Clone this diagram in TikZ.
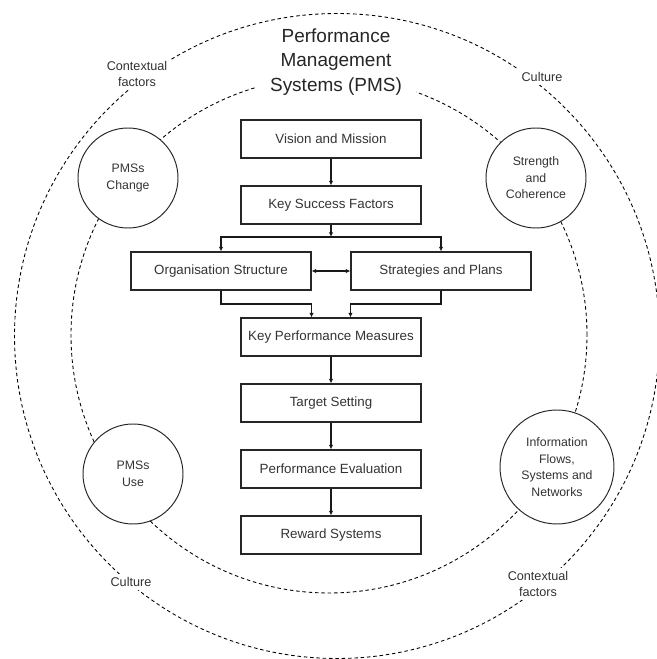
\documentclass[tikz,border=0pt]{standalone}
\usepackage{fontspec}
\setmainfont{Liberation Sans}
\usetikzlibrary{arrows.meta}

\tikzset{
  >={Latex[length=2.6pt,width=2.5pt]},
  block/.style={draw=black!85, line width=0.6pt, minimum width=3.6cm, minimum height=0.76cm,
    inner sep=0pt, text=black!80, font=\fontsize{7.6}{9}\selectfont},
  ring/.style={circle, draw=black!85, line width=0.55pt, fill=white, minimum size=2cm,
    inner sep=0pt, align=center, text=black!80, font=\fontsize{7}{9.4}\selectfont},
  factor/.style={fill=white, inner sep=2pt, align=center, text=black!80,
    font=\fontsize{7.2}{9.3}\selectfont},
  flow/.style={line width=0.65pt, black!90},
  zone/.style={dash pattern=on 2pt off 1.6pt, line width=0.5pt},
}

\begin{document}
\begin{tikzpicture}
  \useasboundingbox (0,0) rectangle (13.14,13.18);
  %%%%%%%%%%%%%%%%%%%%%%%%%%%%%%%%
  \draw[zone] (6.74,6.46) circle (6.45);
  \draw[zone] (6.58,6.48) circle (5.16);
  \node[fill=white, inner xsep=8pt, inner ysep=2pt, align=center, text=black!85,
    font=\fontsize{10.8}{14}\selectfont] (pms) at (6.72,11.94) {Performance\\Management\\Systems (PMS)};
  %%%%%%%%%%%%%%%%%%%%%%%%%%%%%%%%
  \node[block] (vision) at (6.62,10.40) {Vision and Mission};
  \node[block] (ksf) at (6.62,9.08) {Key Success Factors};
  \node[block] (org) at (4.42,7.76) {Organisation Structure};
  \node[block] (plans) at (8.82,7.76) {Strategies and Plans};
  \node[block] (kpm) at (6.62,6.44) {Key Performance Measures};
  \node[block] (target) at (6.62,5.12) {Target Setting};
  \node[block] (eval) at (6.62,3.80) {Performance Evaluation};
  \node[block] (reward) at (6.62,2.48) {Reward Systems};
  %%%%%%%%%%%%%%%%%%%%%%%%%%%%%%%%
  \coordinate (split) at (6.62,8.44);
  \coordinate (merge) at (6.62,7.10);
  \draw[flow, ->] (vision) -- (ksf);
  \draw[flow, ->] (ksf) -- (split);
  \draw[flow, ->] (split) -| (org);
  \draw[flow, ->] (split) -| (plans);
  \draw[flow, <->] (org) -- (plans);
  \draw[flow, ->] (org.south) |- (org.east |- merge) -- (org.east |- kpm.north);
  \draw[flow, ->] (plans.south) |- (plans.west |- merge) -- (plans.west |- kpm.north);
  \draw[flow, ->] (kpm) -- (target);
  \draw[flow, ->] (target) -- (eval);
  \draw[flow, ->] (eval) -- (reward);
  %%%%%%%%%%%%%%%%%%%%%%%%%%%%%%%%
  \node[ring] (change) at (2.56,9.62) {PMSs\\Change};
  \node[ring] (coherence) at (10.72,9.62) {Strength\\and\\Coherence};
  \node[ring] (use) at (2.66,3.70) {PMSs\\Use};
  \node[ring, minimum size=2.28cm] (info) at (11.14,3.84) {Information\\Flows,\\Systems and\\Networks};
  %%%%%%%%%%%%%%%%%%%%%%%%%%%%%%%%
  \node[factor] (ctxtop) at (2.74,11.70) {Contextual\\factors};
  \node[factor] (cultop) at (10.84,11.64) {Culture};
  \node[factor] (culbot) at (2.62,1.54) {Culture};
  \node[factor] (ctxbot) at (10.76,1.50) {Contextual\\factors};
\end{tikzpicture}
\end{document}
